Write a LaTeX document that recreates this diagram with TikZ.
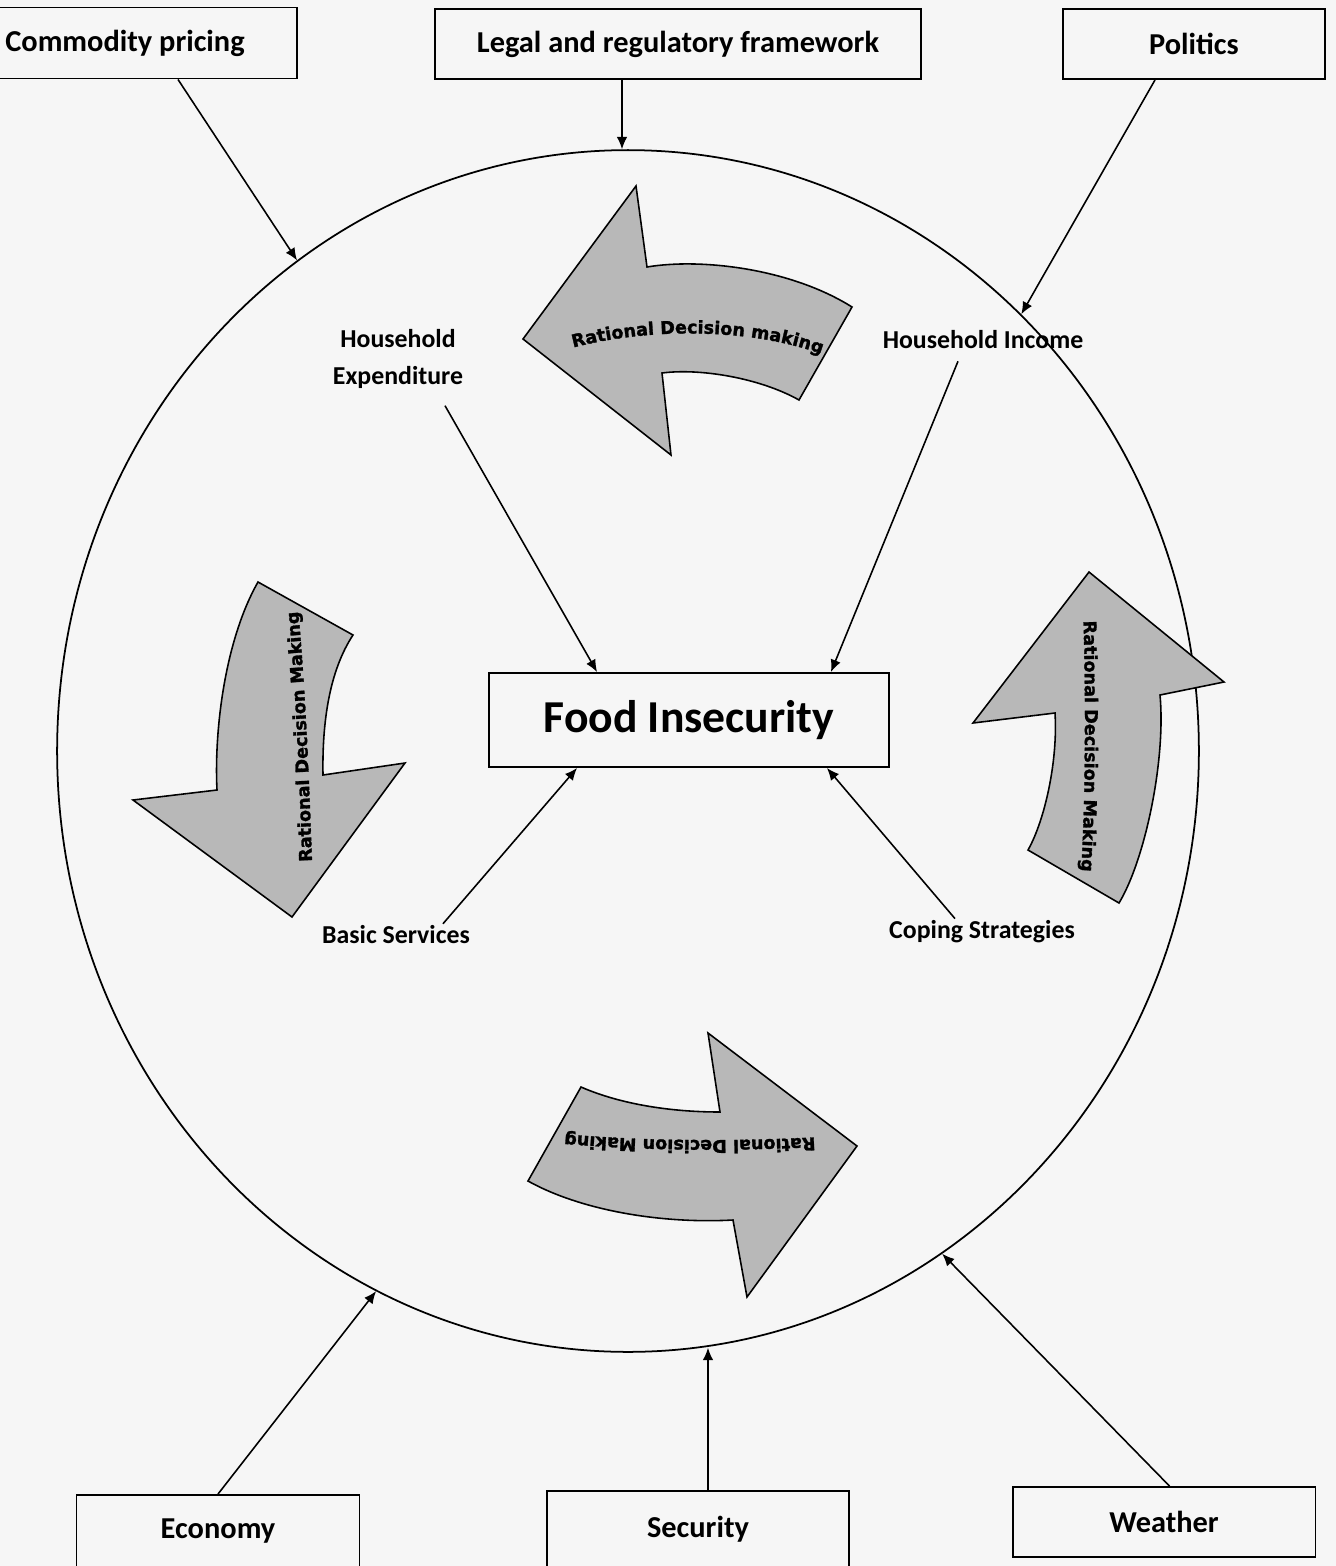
\documentclass[tikz,border=0pt]{standalone}
\usepackage{fontspec}
\setmainfont{Carlito}
\newfontfamily\curvefont{DejaVu Sans}[BoldFeatures={FakeBold=1.6}]
\usetikzlibrary{arrows.meta,shapes.geometric,decorations.text}
\definecolor{arrowgray}{gray}{0.72}
\definecolor{paper}{gray}{0.965}
\newcommand{\curvestyle}{\curvefont\bfseries\fontsize{10}{12}\selectfont}

\begin{document}
\begin{tikzpicture}[x=0.02cm, y=-0.02cm,
  factor/.style={draw, line width=1.1pt, inner sep=0pt, font=\fontsize{17.3}{20}\selectfont\bfseries},
  driver/.style={inner sep=1pt, align=center, font=\fontsize{14.7}{21}\selectfont\bfseries},
  link/.style={-{Latex[length=7pt,width=6pt]}, line width=0.9pt},
  bigarrow/.style={draw, fill=arrowgray, line width=0.9pt, line join=miter},
  arrowtext/.style={decorate, decoration={text along path, text align=center, text={|\curvestyle|#1}}}]
\fill[paper] (0,0) rectangle (1336,1566);
\useasboundingbox (0,0) rectangle (1336,1566);

\node[draw, ellipse, line width=1pt, minimum width=22.84cm, minimum height=24.04cm] (ring) at (628,751) {};

\node[factor, minimum width=6.88cm, minimum height=1.42cm] (commodity) at (125,43) {Commodity pricing};
\node[factor, minimum width=9.74cm, minimum height=1.4cm] (legal) at (678,44) {Legal and regulatory framework};
\node[factor, minimum width=5.24cm, minimum height=1.4cm] (politics) at (1194,44) {Politics};
\node[factor, minimum width=5.66cm, minimum height=1.44cm] (economy) at (218,1531) {Economy};
\node[factor, minimum width=6.04cm, minimum height=1.52cm] (security) at (698,1529) {Security};
\node[factor, minimum width=6.06cm, minimum height=1.4cm] (weather) at (1164,1522) {Weather};
\node[factor, minimum width=8cm, minimum height=1.88cm, font=\fontsize{26}{30}\selectfont\bfseries] (food) at (689,720) {Food Insecurity};

\node[driver] (expenditure) at (398,359) {Household\\Expenditure};
\node[driver] (income) at (983,340) {Household Income};
\node[driver] (services) at (396,935) {Basic Services};
\node[driver] (coping) at (982,932) {Coping Strategies};

\draw[link] ([xshift=1.06cm]commodity.south) -- (ring.124.6);
\draw[link] ([xshift=-1.12cm]legal.south) -- ([xshift=-1.12cm]legal.south |- ring.north);
\draw[link] ([xshift=-0.78cm]politics.south) -- (ring.48.2);
\draw[link] (economy.north) -- (ring.245.2);
\draw[link] ([xshift=0.2cm]security.north) -- ([xshift=0.2cm]security.north |- ring.277.6);
\draw[link] ([xshift=0.11cm]weather.north) -- (ring.302);

\draw[link] ([xshift=0.94cm, yshift=-0.3cm]expenditure.south) -- ([xshift=2.18cm]food.north west);
\draw[link] ([xshift=-0.5cm, yshift=-0.2cm]income.south) -- ([xshift=-1.18cm]food.north east);
\draw[link] ([xshift=0.94cm]services.north) -- ([xshift=1.78cm]food.south west);
\draw[link] ([xshift=-0.54cm]coping.north) -- ([xshift=-1.26cm]food.south east);

\draw[bigarrow] (852,307) .. controls (790,268) and (700,258) .. (647,267) -- (636,186) -- (523,339) -- (671,455) -- (662,373) .. controls (700,368) and (760,378) .. (799,400) -- cycle;
\path[arrowtext={Rational Decision making}] (558,352) .. controls (640,326) and (760,326) .. (836,360);
\draw[bigarrow] (258,582) .. controls (225,640) and (214,730) .. (217,790) -- (133,800) -- (292,917) -- (405,763) -- (323,775) .. controls (322,720) and (330,670) .. (353,635) -- cycle;
\path[arrowtext={Rational Decision Making}] (313,888) .. controls (309,780) and (306,690) .. (296,585);
\draw[bigarrow] (1028,850) .. controls (1045,820) and (1058,760) .. (1055,713) -- (973,723) -- (1089,572) -- (1224,682) -- (1160,695) .. controls (1166,760) and (1145,860) .. (1119,903) -- cycle;
\path[arrowtext={Rational Decision Making}] (1083,600) .. controls (1086,700) and (1086,800) .. (1080,892);
\draw[bigarrow] (581,1087) .. controls (620,1104) and (670,1112) .. (720,1112) -- (708,1033) -- (857,1146) -- (747,1297) -- (733,1220) .. controls (660,1224) and (580,1210) .. (528,1181) -- cycle;
\path[arrowtext={Rational Decision Making}] (840,1136) .. controls (740,1142) and (640,1142) .. (540,1132);
\end{tikzpicture}
\end{document}
